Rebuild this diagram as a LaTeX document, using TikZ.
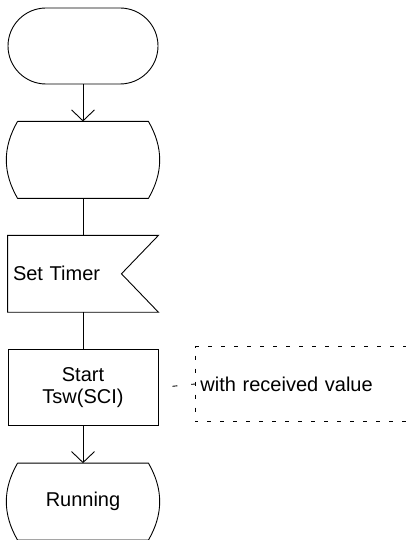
\documentclass[tikz,border=0pt]{standalone}
\usepackage{fontspec}
\setmainfont{Liberation Sans}
\usetikzlibrary{
    arrows.meta,
    positioning,
    shapes.misc
}

\begin{document}
\begin{tikzpicture}[
        x=1pt, y=1pt,
        line width=0.9pt,
        font=\fontsize{20}{22}\selectfont,
        node distance=37pt,
        box/.style={
            minimum width=150pt,
            minimum height=76pt,
            inner sep=0pt,
            align=center
        },
        terminal/.style={
            box,
            draw,
            rounded rectangle,
            rounded rectangle arc length=180
        },
        flow/.style={
            -{Straight Barb[length=11pt,width=23pt,line width=0.9pt]}
        },
        comment/.style={
            dash pattern=on 4pt off 9pt
        }
    ]
    \useasboundingbox (0,0) rectangle (406,-540);

    \node[terminal] (start) at (83,-46) {};
    \node[box, below=of start] (idle) {};
    \node[box, below=of idle, text width=140pt, inner sep=5pt, align=left] (settimer) {Set Timer};
    \node[box, draw, below=of settimer] (starttsw) {Start\\Tsw(SCI)};
    \node[box, below=of starttsw] (running) {Running};

    % state symbols
    \draw ([xshift=10pt]idle.north west) -- ([xshift=-10pt]idle.north east)
        to[bend left=30] ([xshift=-10pt]idle.south east)
        -- ([xshift=10pt]idle.south west)
        to[bend left=30] ([xshift=10pt]idle.north west);
    \draw ([xshift=10pt]running.north west) -- ([xshift=-10pt]running.north east)
        to[bend left=30] ([xshift=-10pt]running.south east)
        -- ([xshift=10pt]running.south west)
        to[bend left=30] ([xshift=10pt]running.north west);

    % timer set symbol
    \draw (settimer.north west) -- (settimer.north east)
        -- ([xshift=-37pt]settimer.east) -- (settimer.south east)
        -- (settimer.south west) -- cycle;

    % comment
    \node[anchor=west, text width=201pt, minimum height=74pt, inner sep=5pt,
        align=left] (note) at (195,-384) {with received value};
    \draw[comment] (note.north east) -- (note.north west)
        -- (note.south west) -- (note.south east);
    \draw[dash pattern=on 5pt off 14pt, dash phase=5pt] (starttsw.east) -- (note.west);

    % connectors
    \draw[flow] (start) -- (idle);
    \draw (idle) -- (settimer);
    \draw (settimer) -- (starttsw);
    \draw[flow] (starttsw) -- (running);

\end{tikzpicture}
\end{document}
